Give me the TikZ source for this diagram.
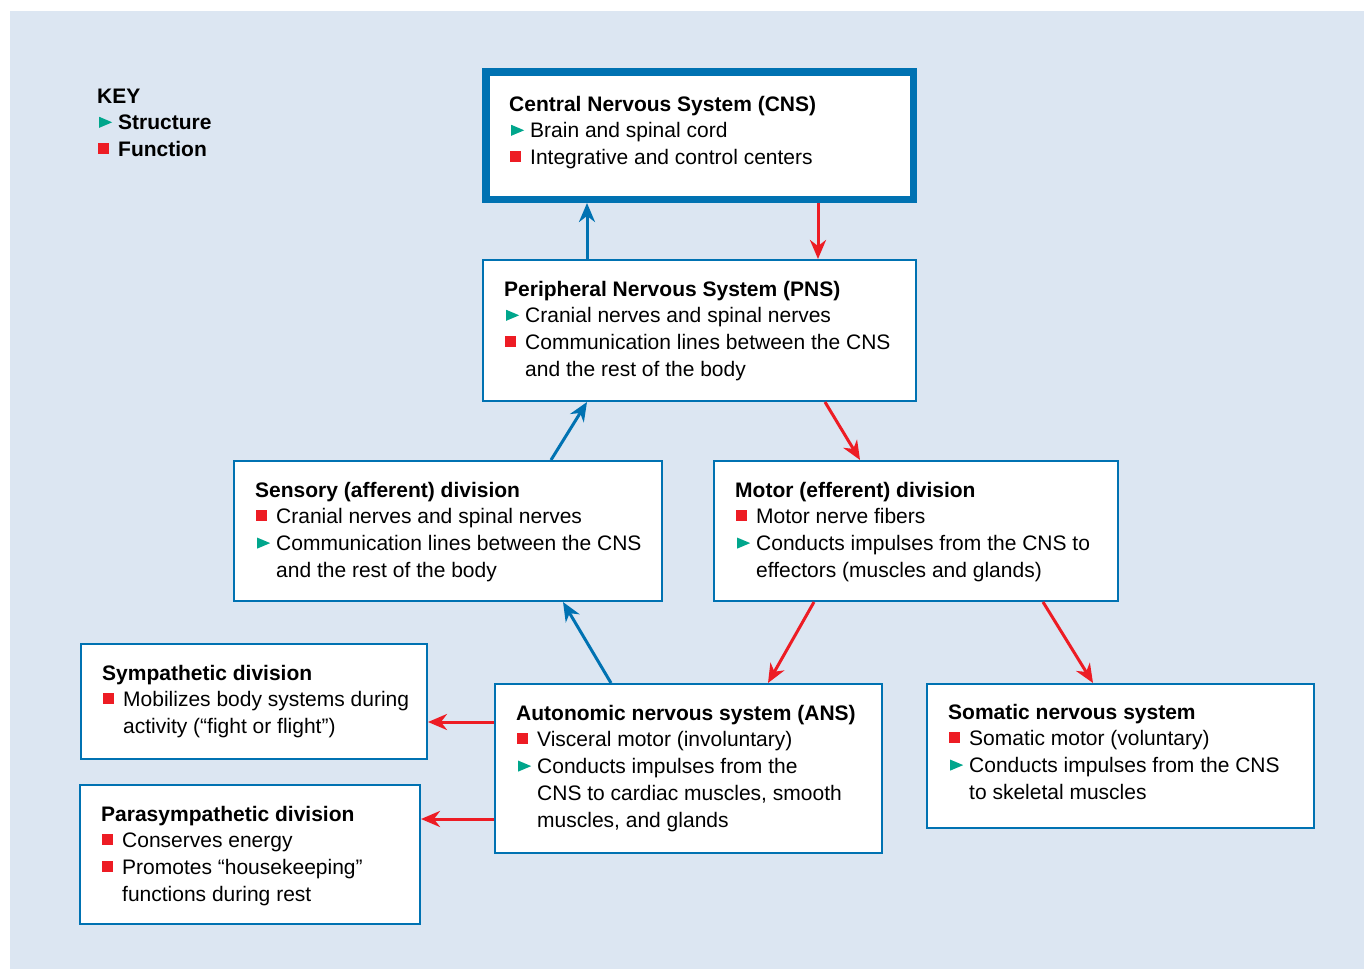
\documentclass[tikz,border=0pt]{standalone}
\usepackage{fontspec}
\setmainfont{Liberation Sans}
\usetikzlibrary{arrows.meta}
\definecolor{bgc}{RGB}{220,230,242}
\definecolor{bluec}{RGB}{0,114,178}
\definecolor{redc}{RGB}{237,28,36}
\definecolor{greenc}{RGB}{0,166,140}
\newcommand{\tri}{\makebox[21pt][l]{\hspace{2pt}\tikz[x=1pt,y=1pt,baseline=0pt]{\path (0,0); \fill[greenc] (0,2)--(13,7.5)--(0,13)--cycle;}}}
\newcommand{\sq}{\makebox[21pt][l]{\hspace{1pt}\textcolor{redc}{\rule[3pt]{11pt}{11pt}}}}
\newcommand{\ttl}[1]{\multicolumn{2}{@{}l@{}}{\bfseries #1}}
\begin{document}
\begin{tikzpicture}[x=1pt,y=-1pt,
  box/.style={draw=bluec, fill=white, line width=2.4pt, inner sep=0pt, anchor=north west},
  txt/.style={anchor=base west, inner sep=0pt, font=\fontsize{21}{26.8}\selectfont},
  tipstyle/.style={-{Stealth[length=19pt,width=16pt,inset=6pt]}},
  barrow/.style={draw=bluec, line width=3pt, tipstyle},
  rarrow/.style={draw=redc, line width=3pt, tipstyle}]
\useasboundingbox (0,0) rectangle (1364,969);
\fill[bgc] (10,11) rectangle (1364,969);

% boxes
\node[box, line width=7.5pt, minimum width=427.5pt, minimum height=127.5pt] (cns) at (482,68) {};
\node[box, minimum width=432.6pt, minimum height=140.6pt] (pns) at (482,259) {};
\node[box, minimum width=427.6pt, minimum height=139.6pt] (sens) at (233,460) {};
\node[box, minimum width=403.6pt, minimum height=139.6pt] (motor) at (713,460) {};
\node[box, minimum width=345.6pt, minimum height=114.6pt] (symp) at (80,643) {};
\node[box, minimum width=339.6pt, minimum height=138.6pt] (para) at (79,784) {};
\node[box, minimum width=386.6pt, minimum height=168.6pt] (ans) at (494,683) {};
\node[box, minimum width=386.6pt, minimum height=143.6pt] (soma) at (926,683) {};

% texts
\node[txt] (keyt) at (97,103) {\begin{tabular}[t]{@{}l@{}l@{}}\ttl{KEY}\\ \tri & \bfseries Structure\\ \sq & \bfseries Function\end{tabular}};
\node[txt] (cnst) at (509,111) {\begin{tabular}[t]{@{}l@{}l@{}}\ttl{Central Nervous System (CNS)}\\ \tri & Brain and spinal cord\\ \sq & Integrative and control centers\end{tabular}};
\node[txt] (pnst) at (504,296) {\begin{tabular}[t]{@{}l@{}l@{}}\ttl{Peripheral Nervous System (PNS)}\\ \tri & Cranial nerves and spinal nerves\\ \sq & Communication lines between the CNS\\ & and the rest of the body\end{tabular}};
\node[txt] (senst) at (255,497) {\begin{tabular}[t]{@{}l@{}l@{}}\ttl{Sensory (afferent) division}\\ \sq & Cranial nerves and spinal nerves\\ \tri & Communication lines between the CNS\\ & and the rest of the body\end{tabular}};
\node[txt] (motort) at (735,497) {\begin{tabular}[t]{@{}l@{}l@{}}\ttl{Motor (efferent) division}\\ \sq & Motor nerve fibers\\ \tri & Conducts impulses from the CNS to\\ & effectors (muscles and glands)\end{tabular}};
\node[txt] (sympt) at (102,680) {\begin{tabular}[t]{@{}l@{}l@{}}\ttl{Sympathetic division}\\ \sq & Mobilizes body systems during\\ & activity (“fight or flight”)\end{tabular}};
\node[txt] (parat) at (101,821) {\begin{tabular}[t]{@{}l@{}l@{}}\ttl{Parasympathetic division}\\ \sq & Conserves energy\\ \sq & Promotes “housekeeping”\\ & functions during rest\end{tabular}};
\node[txt] (anst) at (516,720) {\begin{tabular}[t]{@{}l@{}l@{}}\ttl{Autonomic nervous system (ANS)}\\ \sq & Visceral motor (involuntary)\\ \tri & Conducts impulses from the\\ & CNS to cardiac muscles, smooth\\ & muscles, and glands\end{tabular}};
\node[txt] (somat) at (948,719) {\begin{tabular}[t]{@{}l@{}l@{}}\ttl{Somatic nervous system}\\ \sq & Somatic motor (voluntary)\\ \tri & Conducts impulses from the CNS\\ & to skeletal muscles\end{tabular}};

% connectors
\draw[barrow] ([xshift=-112.5pt]pns.north) -- ([xshift=-112.5pt]cns.south);
\draw[rarrow] ([xshift=118.5pt]cns.south) -- ([xshift=118.5pt]pns.north);
\draw[barrow] ([xshift=103pt]sens.north) -- ([xshift=-112.5pt]pns.south);
\draw[rarrow] ([xshift=125.5pt]pns.south) -- ([xshift=-56pt]motor.north);
\draw[barrow] ([xshift=-77.5pt]ans.north) -- ([xshift=115pt]sens.south);
\draw[rarrow] ([xshift=-102pt]motor.south) -- ([xshift=79.5pt]ans.north);
\draw[rarrow] ([xshift=127pt]motor.south) -- ([xshift=-27.5pt]soma.north);
\draw[rarrow] ([yshift=46.5pt]ans.west) -- ([yshift=-20.5pt]symp.east);
\draw[rarrow] ([yshift=-50.5pt]ans.west) -- ([yshift=35.5pt]para.east);
\end{tikzpicture}
\end{document}
